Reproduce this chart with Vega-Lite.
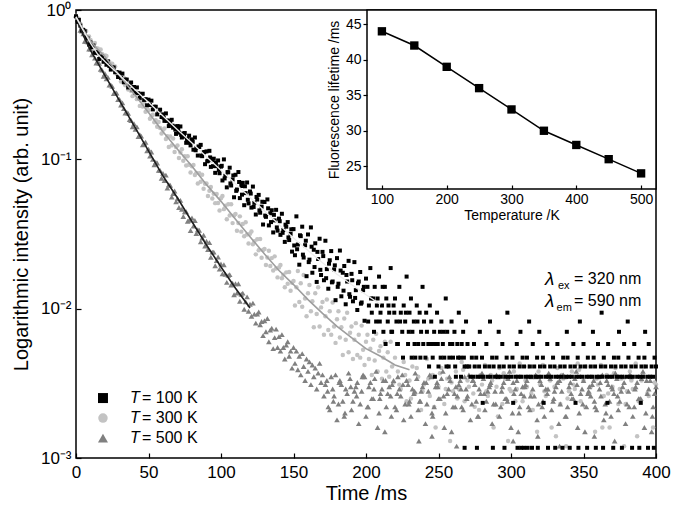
{
"$schema":"https://vega.github.io/schema/vega-lite/v6.json",
"width":580,"height":448,
"autosize":{"type":"none"},
"padding":{"left":76,"top":10,"right":17,"bottom":48},
"background":"white",
"config":{"view":{"stroke":"#000","strokeWidth":1.5},"font":"Liberation Sans","axis":{"grid":false,"domain":false,"labelColor":"#000","titleColor":"#000","tickColor":"#000","titleFontWeight":"normal"}},
"datasets":{
"b":[{"t":0,"v":0.908},{"t":1,"v":0.832},{"t":2,"v":0.860},{"t":3,"v":0.786},{"t":4,"v":0.727},{"t":5,"v":0.735},{"t":6,"v":0.721},{"t":7,"v":0.657},{"t":8,"v":0.646},{"t":9,"v":0.587},{"t":10,"v":0.606},{"t":11,"v":0.563},{"t":12,"v":0.578},{"t":13,"v":0.517},{"t":14,"v":0.522},{"t":15,"v":0.513},{"t":16,"v":0.470},{"t":17,"v":0.481},{"t":18,"v":0.489},{"t":19,"v":0.450},{"t":20,"v":0.461},{"t":21,"v":0.430},{"t":22,"v":0.453},{"t":23,"v":0.422},{"t":24,"v":0.399},{"t":25,"v":0.412},{"t":26,"v":0.412},{"t":27,"v":0.383},{"t":28,"v":0.384},{"t":29,"v":0.356},{"t":30,"v":0.381},{"t":31,"v":0.351},{"t":32,"v":0.375},{"t":33,"v":0.328},{"t":34,"v":0.342},{"t":35,"v":0.342},{"t":36,"v":0.303},{"t":37,"v":0.316},{"t":38,"v":0.327},{"t":39,"v":0.293},{"t":40,"v":0.305},{"t":41,"v":0.279},{"t":42,"v":0.303},{"t":43,"v":0.277},{"t":44,"v":0.258},{"t":45,"v":0.273},{"t":46,"v":0.275},{"t":47,"v":0.250},{"t":48,"v":0.253},{"t":49,"v":0.230},{"t":50,"v":0.251},{"t":51,"v":0.231},{"t":52,"v":0.247},{"t":53,"v":0.216},{"t":54,"v":0.225},{"t":55,"v":0.225},{"t":56,"v":0.200},{"t":57,"v":0.208},{"t":58,"v":0.215},{"t":59,"v":0.192},{"t":60,"v":0.200},
{"t":61,"v":0.181},{"t":62,"v":0.203},{"t":63,"v":0.182},{"t":64,"v":0.167},{"t":65,"v":0.181},{"t":66,"v":0.184},{"t":67,"v":0.163},{"t":68,"v":0.166},{"t":69,"v":0.148},{"t":70,"v":0.167},{"t":71,"v":0.151},{"t":72,"v":0.166},{"t":73,"v":0.140},{"t":74,"v":0.149},{"t":75,"v":0.150},{"t":76,"v":0.129},{"t":77,"v":0.137},{"t":78,"v":0.144},{"t":79,"v":0.124},{"t":80,"v":0.136},{"t":81,"v":0.116},{"t":82,"v":0.140},{"t":83,"v":0.119},{"t":84,"v":0.106},{"t":85,"v":0.121},{"t":86,"v":0.125},{"t":87,"v":0.105},{"t":88,"v":0.111},{"t":89,"v":0.0928},{"t":90,"v":0.113},{"t":91,"v":0.0978},{"t":92,"v":0.114},{"t":93,"v":0.0890},{"t":94,"v":0.0987},{"t":95,"v":0.101},{"t":96,"v":0.0812},{"t":97,"v":0.090},{"t":98,"v":0.0983},{"t":99,"v":0.0807},{"t":100,"v":0.0894},
{"t":60.5,"v":0.190},{"t":62.5,"v":0.181},{"t":64.5,"v":0.174},{"t":66.5,"v":0.168},{"t":68.5,"v":0.158},{"t":70.5,"v":0.158},{"t":72.5,"v":0.146},{"t":74.5,"v":0.142},{"t":76.5,"v":0.137},{"t":78.5,"v":0.129},{"t":80.5,"v":0.131},{"t":82.5,"v":0.115},{"t":84.5,"v":0.122},{"t":86.5,"v":0.106},{"t":88.5,"v":0.112},{"t":90.5,"v":0.097},{"t":92.5,"v":0.103},{"t":94.5,"v":0.090},{"t":96.5,"v":0.095},{"t":98.5,"v":0.085},
{"t":101,"v":0.0722},{"t":102,"v":0.0999},{"t":103,"v":0.0778},{"t":104,"v":0.0649},{"t":105,"v":0.0819},{"t":106,"v":0.0879},{"t":107,"v":0.0668},{"t":108,"v":0.0733},{"t":109,"v":0.0557},{"t":110,"v":0.0788},{"t":111,"v":0.0628},{"t":112,"v":0.0822},{"t":113,"v":0.0550},{"t":114,"v":0.0663},{"t":115,"v":0.0696},{"t":116,"v":0.0493},{"t":117,"v":0.0594},{"t":118,"v":0.0700},{"t":119,"v":0.0507},{"t":120,"v":0.0609},{"t":121,"v":0.0475},{"t":122,"v":0.0657},{"t":123,"v":0.0511},{"t":124,"v":0.0427},{"t":125,"v":0.0538},{"t":126,"v":0.0578},{"t":127,"v":0.0439},{"t":128,"v":0.0482},{"t":129,"v":0.0366},{"t":130,"v":0.0518},{"t":131,"v":0.0412},{"t":132,"v":0.0539},{"t":133,"v":0.0361},{"t":134,"v":0.0435},{"t":135,"v":0.0456},{"t":136,"v":0.0324},{"t":137,"v":0.039},{"t":138,"v":0.0459},{"t":139,"v":0.0333},{"t":140,"v":0.0401},{"t":141,"v":0.0312},{"t":142,"v":0.0432},{"t":143,"v":0.0336},{"t":144,"v":0.0280},{"t":145,"v":0.0354},{"t":146,"v":0.0380},{"t":147,"v":0.0288},{"t":148,"v":0.0317},{"t":149,"v":0.0241},{"t":150,"v":0.0341},
{"t":100.5,"v":0.0905},{"t":102.5,"v":0.0745},{"t":104.5,"v":0.0821},{"t":106.5,"v":0.0690},{"t":108.5,"v":0.0780},{"t":110.5,"v":0.0615},{"t":112.5,"v":0.0705},{"t":114.5,"v":0.0580},{"t":116.5,"v":0.0660},{"t":118.5,"v":0.0536},{"t":120.5,"v":0.0590},{"t":122.5,"v":0.0480},{"t":124.5,"v":0.0560},{"t":126.5,"v":0.0455},{"t":128.5,"v":0.0520},{"t":130.5,"v":0.0420},{"t":132.5,"v":0.0470},{"t":134.5,"v":0.0380},{"t":136.5,"v":0.0425},{"t":138.5,"v":0.0350},{"t":140.5,"v":0.0385},{"t":142.5,"v":0.0322},{"t":144.5,"v":0.0365},{"t":146.5,"v":0.0300},{"t":148.5,"v":0.0340},
{"t":151,"v":0.0228},{"t":152,"v":0.0415},{"t":153,"v":0.0269},{"t":154,"v":0.0197},{"t":155,"v":0.0306},{"t":156,"v":0.0354},{"t":157,"v":0.0220},{"t":158,"v":0.0266},{"t":159,"v":0.0165},{"t":160,"v":0.0314},{"t":161,"v":0.0213},{"t":162,"v":0.0350},{"t":163,"v":0.0174},{"t":164,"v":0.0248},{"t":165,"v":0.0274},{"t":166,"v":0.0151},{"t":167,"v":0.0215},{"t":168,"v":0.0294},{"t":169,"v":0.0168},{"t":170,"v":0.0240},{"t":171,"v":0.0155},{"t":172,"v":0.0285},{"t":173,"v":0.0184},{"t":174,"v":0.0136},{"t":175,"v":0.0211},{"t":176,"v":0.0243},{"t":177,"v":0.0152},{"t":178,"v":0.0183},{"t":179,"v":0.0114},{"t":180,"v":0.0218},{"t":181,"v":0.0147},{"t":182,"v":0.0245},{"t":183,"v":0.0121},{"t":184,"v":0.0174},{"t":185,"v":0.0193},{"t":186,"v":0.0107},{"t":187,"v":0.0152},{"t":188,"v":0.0209},{"t":189,"v":0.0120},{"t":190,"v":0.0171},{"t":191,"v":0.0112},{"t":192,"v":0.0205},{"t":193,"v":0.0133},{"t":194,"v":0.0098},{"t":195,"v":0.0152},{"t":196,"v":0.0176},{"t":197,"v":0.0110},{"t":198,"v":0.0133},{"t":199,"v":0.0083},{"t":200,"v":0.0159},
{"t":150.5,"v":0.0265},{"t":152.5,"v":0.0250},{"t":154.5,"v":0.0310},{"t":156.5,"v":0.0230},{"t":158.5,"v":0.0285},{"t":160.5,"v":0.0205},{"t":162.5,"v":0.0260},{"t":164.5,"v":0.0190},{"t":166.5,"v":0.0240},{"t":168.5,"v":0.0182},{"t":170.5,"v":0.0225},{"t":172.5,"v":0.0160},{"t":174.5,"v":0.0200},{"t":176.5,"v":0.0150},{"t":178.5,"v":0.0195},{"t":180.5,"v":0.0140},{"t":182.5,"v":0.0180},{"t":184.5,"v":0.0132},{"t":186.5,"v":0.0168},{"t":188.5,"v":0.0125},{"t":190.5,"v":0.0155},{"t":192.5,"v":0.0118},{"t":194.5,"v":0.0148},{"t":196.5,"v":0.0108},{"t":198.5,"v":0.0140},
{"t":201,"v":0.0140},{"t":202,"v":0.0105},{"t":203,"v":0.0187},{"t":204,"v":0.0094},{"t":205,"v":0.0117},{"t":206,"v":0.0140},{"t":207,"v":0.0082},{"t":208,"v":0.0117},{"t":209,"v":0.0164},{"t":210,"v":0.0094},{"t":211,"v":0.0105},{"t":212,"v":0.0070},{"t":213,"v":0.0140},{"t":214,"v":0.0117},{"t":215,"v":0.0082},{"t":216,"v":0.0094},{"t":217,"v":0.0187},{"t":218,"v":0.0070},{"t":219,"v":0.0105},{"t":220,"v":0.0117},{"t":221,"v":0.0082},{"t":222,"v":0.0058},{"t":223,"v":0.0140},{"t":224,"v":0.0094},{"t":225,"v":0.0070},{"t":226,"v":0.0105},{"t":227,"v":0.0082},{"t":228,"v":0.0164},{"t":229,"v":0.0058},{"t":230,"v":0.0094},{"t":231,"v":0.0117},{"t":232,"v":0.0070},{"t":233,"v":0.0082},{"t":234,"v":0.0047},{"t":235,"v":0.0105},{"t":236,"v":0.0058},{"t":237,"v":0.0094},{"t":238,"v":0.0070},{"t":239,"v":0.0140},{"t":240,"v":0.0082},{"t":241,"v":0.0047},{"t":242,"v":0.0070},{"t":243,"v":0.0058},{"t":244,"v":0.0105},{"t":245,"v":0.0082},{"t":246,"v":0.0047},{"t":247,"v":0.0070},{"t":248,"v":0.0058},{"t":249,"v":0.0094},{"t":250,"v":0.0041},{"t":251,"v":0.0070},{"t":252,"v":0.0082},{"t":253,"v":0.0058},{"t":254,"v":0.0047},{"t":255,"v":0.0117},{"t":256,"v":0.0070},{"t":257,"v":0.0041},{"t":258,"v":0.0058},{"t":259,"v":0.0082},{"t":260,"v":0.0047},{"t":261,"v":0.0070},{"t":262,"v":0.0035},{"t":263,"v":0.0058},{"t":264,"v":0.0094},{"t":265,"v":0.0047},{"t":266,"v":0.0058},{"t":267,"v":0.0070},{"t":268,"v":0.0041},{"t":269,"v":0.0082},{"t":270,"v":0.0058},
{"t":201.5,"v":0.0082},{"t":203.5,"v":0.0117},{"t":205.5,"v":0.0070},{"t":207.5,"v":0.0105},{"t":209.5,"v":0.0082},{"t":211.5,"v":0.0140},{"t":213.5,"v":0.0058},{"t":215.5,"v":0.0105},{"t":217.5,"v":0.0070},{"t":219.5,"v":0.0094},{"t":221.5,"v":0.0058},{"t":223.5,"v":0.0082},{"t":225.5,"v":0.0047},{"t":227.5,"v":0.0094},{"t":229.5,"v":0.0070},{"t":231.5,"v":0.0047},{"t":233.5,"v":0.0058},{"t":235.5,"v":0.0082},{"t":237.5,"v":0.0047},{"t":239.5,"v":0.0058},{"t":241.5,"v":0.0094},{"t":243.5,"v":0.0041},{"t":245.5,"v":0.0058},{"t":247.5,"v":0.0035},{"t":249.5,"v":0.0058},{"t":251.5,"v":0.0047},{"t":253.5,"v":0.0070},{"t":255.5,"v":0.0041},{"t":257.5,"v":0.0047},{"t":259.5,"v":0.0058},{"t":261.5,"v":0.0041},{"t":263.5,"v":0.0047},{"t":265.5,"v":0.0035},{"t":267.5,"v":0.0047},{"t":269.5,"v":0.0041},
{"t":272,"v":0.0035},{"t":274,"v":0.0035},{"t":277,"v":0.0035},{"t":279,"v":0.0035},{"t":281,"v":0.0035},{"t":284,"v":0.0035},{"t":286,"v":0.0035},{"t":289,"v":0.0035},{"t":291,"v":0.0035},{"t":293,"v":0.0035},{"t":296,"v":0.0035},{"t":298,"v":0.0035},{"t":300,"v":0.0035},{"t":303,"v":0.0035},{"t":305,"v":0.0035},{"t":307,"v":0.0035},{"t":310,"v":0.0035},{"t":312,"v":0.0035},{"t":314,"v":0.0035},{"t":317,"v":0.0035},{"t":319,"v":0.0035},{"t":321,"v":0.0035},{"t":324,"v":0.0035},{"t":326,"v":0.0035},{"t":328,"v":0.0035},{"t":331,"v":0.0035},{"t":333,"v":0.0035},{"t":335,"v":0.0035},{"t":338,"v":0.0035},{"t":340,"v":0.0035},{"t":342,"v":0.0035},{"t":345,"v":0.0035},{"t":347,"v":0.0035},{"t":349,"v":0.0035},{"t":352,"v":0.0035},{"t":354,"v":0.0035},{"t":356,"v":0.0035},{"t":359,"v":0.0035},{"t":361,"v":0.0035},{"t":363,"v":0.0035},{"t":366,"v":0.0035},{"t":368,"v":0.0035},{"t":370,"v":0.0035},{"t":373,"v":0.0035},{"t":375,"v":0.0035},{"t":377,"v":0.0035},{"t":380,"v":0.0035},{"t":382,"v":0.0035},{"t":384,"v":0.0035},{"t":387,"v":0.0035},{"t":389,"v":0.0035},{"t":391,"v":0.0035},{"t":394,"v":0.0035},{"t":396,"v":0.0035},{"t":398,"v":0.0035},
{"t":271,"v":0.0041},{"t":275,"v":0.0041},{"t":278,"v":0.0041},{"t":282,"v":0.0041},{"t":285,"v":0.0041},{"t":288,"v":0.0041},{"t":292,"v":0.0041},{"t":295,"v":0.0041},{"t":299,"v":0.0041},{"t":302,"v":0.0041},{"t":306,"v":0.0041},{"t":309,"v":0.0041},{"t":313,"v":0.0041},{"t":316,"v":0.0041},{"t":320,"v":0.0041},{"t":323,"v":0.0041},{"t":327,"v":0.0041},{"t":330,"v":0.0041},{"t":334,"v":0.0041},{"t":337,"v":0.0041},{"t":341,"v":0.0041},{"t":344,"v":0.0041},{"t":348,"v":0.0041},{"t":351,"v":0.0041},{"t":355,"v":0.0041},{"t":358,"v":0.0041},{"t":362,"v":0.0041},{"t":365,"v":0.0041},{"t":369,"v":0.0041},{"t":372,"v":0.0041},{"t":376,"v":0.0041},{"t":379,"v":0.0041},{"t":383,"v":0.0041},{"t":386,"v":0.0041},{"t":390,"v":0.0041},{"t":393,"v":0.0041},{"t":397,"v":0.0041},{"t":400,"v":0.0041},
{"t":273,"v":0.0047},{"t":276,"v":0.0047},{"t":280,"v":0.0047},{"t":287,"v":0.0047},{"t":290,"v":0.0047},{"t":297,"v":0.0047},{"t":301,"v":0.0047},{"t":308,"v":0.0047},{"t":311,"v":0.0047},{"t":318,"v":0.0047},{"t":322,"v":0.0047},{"t":329,"v":0.0047},{"t":336,"v":0.0047},{"t":339,"v":0.0047},{"t":346,"v":0.0047},{"t":353,"v":0.0047},{"t":357,"v":0.0047},{"t":364,"v":0.0047},{"t":371,"v":0.0047},{"t":374,"v":0.0047},{"t":381,"v":0.0047},{"t":388,"v":0.0047},{"t":392,"v":0.0047},{"t":399,"v":0.0047},
{"t":274.5,"v":0.0058},{"t":283,"v":0.0058},{"t":294,"v":0.0058},{"t":304,"v":0.0058},{"t":315,"v":0.0058},{"t":325,"v":0.0058},{"t":332,"v":0.0058},{"t":343,"v":0.0058},{"t":350,"v":0.0058},{"t":360,"v":0.0058},{"t":367,"v":0.0058},{"t":378,"v":0.0058},{"t":385,"v":0.0058},{"t":395,"v":0.0058},
{"t":278.5,"v":0.0070},{"t":291.5,"v":0.0070},{"t":306.5,"v":0.0070},{"t":319.5,"v":0.0070},{"t":338.5,"v":0.0070},{"t":356.5,"v":0.0070},{"t":374.5,"v":0.0070},{"t":392.5,"v":0.0070},
{"t":285.5,"v":0.0082},{"t":312.5,"v":0.0082},{"t":347.5,"v":0.0082},{"t":380.5,"v":0.0082},{"t":297.5,"v":0.0094},{"t":362.5,"v":0.0094},
{"t":280.5,"v":0.00234},{"t":301.5,"v":0.00234},{"t":322.5,"v":0.00234},{"t":344.5,"v":0.00234},{"t":366.5,"v":0.00234},{"t":389.5,"v":0.00234},
{"t":268,"v":0.00117},{"t":276.5,"v":0.00117},{"t":287.5,"v":0.00117},{"t":295.5,"v":0.00117},{"t":304.5,"v":0.00117},{"t":307,"v":0.00117},{"t":309,"v":0.00117},{"t":311.5,"v":0.00117},{"t":314.5,"v":0.00117},{"t":318.5,"v":0.00117},{"t":325.5,"v":0.00117},{"t":330.5,"v":0.00117},{"t":335.5,"v":0.00117},{"t":340.5,"v":0.00117},{"t":346.5,"v":0.00117},{"t":352.5,"v":0.00117},{"t":358.5,"v":0.00117},{"t":363.5,"v":0.00117},{"t":370.5,"v":0.00117},{"t":376.5,"v":0.00117},{"t":383.5,"v":0.00117},{"t":388.5,"v":0.00117},{"t":394.5,"v":0.00117},{"t":398.5,"v":0.00117}
],
"g":[{"t":0,"v":0.894},{"t":1,"v":0.886},{"t":2,"v":0.813},{"t":3,"v":0.809},{"t":4,"v":0.743},{"t":5,"v":0.743},{"t":6,"v":0.696},{"t":7,"v":0.723},{"t":8,"v":0.650},{"t":9,"v":0.665},{"t":10,"v":0.631},{"t":11,"v":0.576},{"t":12,"v":0.591},{"t":13,"v":0.602},{"t":14,"v":0.553},{"t":15,"v":0.553},{"t":16,"v":0.516},{"t":17,"v":0.544},{"t":18,"v":0.507},{"t":19,"v":0.479},{"t":20,"v":0.496},{"t":21,"v":0.492},{"t":22,"v":0.452},{"t":23,"v":0.451},{"t":24,"v":0.413},{"t":25,"v":0.436},{"t":26,"v":0.405},{"t":27,"v":0.418},{"t":28,"v":0.373},{"t":29,"v":0.379},{"t":30,"v":0.378},{"t":31,"v":0.332},{"t":32,"v":0.345},{"t":33,"v":0.352},{"t":34,"v":0.313},{"t":35,"v":0.325},{"t":36,"v":0.293},{"t":37,"v":0.317},{"t":38,"v":0.287},{"t":39,"v":0.265},
{"t":40,"v":0.282},{"t":41,"v":0.281},{"t":42,"v":0.253},{"t":43,"v":0.254},{"t":44,"v":0.228},{"t":45,"v":0.248},{"t":46,"v":0.226},{"t":47,"v":0.239},{"t":48,"v":0.208},{"t":49,"v":0.215},{"t":50,"v":0.213},{"t":51,"v":0.187},{"t":52,"v":0.194},{"t":53,"v":0.199},{"t":54,"v":0.177},{"t":55,"v":0.183},{"t":56,"v":0.165},{"t":57,"v":0.178},{"t":58,"v":0.162},{"t":59,"v":0.149},{"t":60,"v":0.158},{"t":61,"v":0.161},{"t":62,"v":0.137},{"t":63,"v":0.143},{"t":64,"v":0.121},{"t":65,"v":0.142},{"t":66,"v":0.124},{"t":67,"v":0.138},{"t":68,"v":0.112},{"t":69,"v":0.121},
{"t":70,"v":0.124},{"t":71,"v":0.102},{"t":72,"v":0.111},{"t":73,"v":0.117},{"t":74,"v":0.098},{"t":75,"v":0.105},{"t":76,"v":0.091},{"t":77,"v":0.105},{"t":78,"v":0.092},{"t":79,"v":0.0817},{"t":80,"v":0.090},{"t":81,"v":0.0918},{"t":82,"v":0.0786},{"t":83,"v":0.081},{"t":84,"v":0.0688},{"t":85,"v":0.0806},{"t":86,"v":0.0707},{"t":87,"v":0.0788},{"t":88,"v":0.0635},{"t":89,"v":0.0686},{"t":90,"v":0.0689},{"t":91,"v":0.0568},{"t":92,"v":0.0615},{"t":93,"v":0.0652},{"t":94,"v":0.0546},{"t":95,"v":0.0589},{"t":96,"v":0.0509},{"t":97,"v":0.0586},{"t":98,"v":0.0510},{"t":99,"v":0.0455},
{"t":100,"v":0.0548},{"t":101,"v":0.0569},{"t":102,"v":0.0464},{"t":103,"v":0.0489},{"t":104,"v":0.0397},{"t":105,"v":0.0500},{"t":106,"v":0.0421},{"t":107,"v":0.0501},{"t":108,"v":0.0374},{"t":109,"v":0.0421},{"t":110,"v":0.0430},{"t":111,"v":0.0333},{"t":112,"v":0.0375},{"t":113,"v":0.0415},{"t":114,"v":0.0328},{"t":115,"v":0.0369},{"t":116,"v":0.0305},{"t":117,"v":0.0379},{"t":118,"v":0.0314},{"t":119,"v":0.0273},{"t":120,"v":0.0317},{"t":121,"v":0.0329},{"t":122,"v":0.0270},{"t":123,"v":0.0283},{"t":124,"v":0.0231},{"t":125,"v":0.0292},{"t":126,"v":0.0246},{"t":127,"v":0.0293},{"t":128,"v":0.0219},{"t":129,"v":0.0247},{"t":130,"v":0.0251},{"t":131,"v":0.0196},{"t":132,"v":0.0220},{"t":133,"v":0.0244},{"t":134,"v":0.0193},{"t":135,"v":0.0218},{"t":136,"v":0.0180},{"t":137,"v":0.0224},{"t":138,"v":0.0186},{"t":139,"v":0.0162},{"t":140,"v":0.0189},{"t":141,"v":0.0196},{"t":142,"v":0.0160},{"t":143,"v":0.0169},{"t":144,"v":0.0139},{"t":145,"v":0.0175},{"t":146,"v":0.0147},{"t":147,"v":0.0176},{"t":148,"v":0.0132},{"t":149,"v":0.0149},{"t":150,"v":0.0153},
{"t":151,"v":0.0105},{"t":152,"v":0.0139},{"t":153,"v":0.0179},{"t":154,"v":0.0111},{"t":155,"v":0.0148},{"t":156,"v":0.0103},{"t":157,"v":0.0168},{"t":158,"v":0.0117},{"t":159,"v":0.0089},{"t":160,"v":0.0127},{"t":161,"v":0.0144},{"t":162,"v":0.0096},{"t":163,"v":0.0112},{"t":164,"v":0.0075},{"t":165,"v":0.0127},{"t":166,"v":0.0092},{"t":167,"v":0.0139},{"t":168,"v":0.0076},{"t":169,"v":0.0102},{"t":170,"v":0.0111},{"t":171,"v":0.0067},{"t":172,"v":0.0089},{"t":173,"v":0.0115},{"t":174,"v":0.0072},{"t":175,"v":0.0096},{"t":176,"v":0.0067},{"t":177,"v":0.0110},{"t":178,"v":0.0076},{"t":179,"v":0.0059},{"t":180,"v":0.0085},{"t":181,"v":0.0096},{"t":182,"v":0.0064},{"t":183,"v":0.0075},{"t":184,"v":0.0049},{"t":185,"v":0.0086},{"t":186,"v":0.0062},{"t":187,"v":0.0094},{"t":188,"v":0.0051},{"t":189,"v":0.0069},{"t":190,"v":0.0076},{"t":191,"v":0.0046},{"t":192,"v":0.0062},{"t":193,"v":0.0080},{"t":194,"v":0.0049},{"t":195,"v":0.0067},{"t":196,"v":0.0047},{"t":197,"v":0.0077},{"t":198,"v":0.0053},{"t":199,"v":0.0042},{"t":200,"v":0.0060},{"t":201,"v":0.0067},{"t":202,"v":0.0046},{"t":203,"v":0.0054},{"t":204,"v":0.0036},{"t":205,"v":0.0062},{"t":206,"v":0.0045},{"t":207,"v":0.0068},{"t":208,"v":0.0038},{"t":209,"v":0.0052},{"t":210,"v":0.0056},{"t":211,"v":0.0034},{"t":212,"v":0.0047},{"t":213,"v":0.0060},{"t":214,"v":0.0038},{"t":215,"v":0.0051},{"t":216,"v":0.0035},{"t":217,"v":0.0060},{"t":218,"v":0.0041},{"t":219,"v":0.0032},{"t":220,"v":0.0047},
{"t":222,"v":0.0038},{"t":224,"v":0.0029},{"t":226,"v":0.0044},{"t":228,"v":0.0024},{"t":230,"v":0.0033},{"t":232,"v":0.0041},{"t":234,"v":0.0027},{"t":236,"v":0.0035},{"t":238,"v":0.0021},{"t":240,"v":0.0031},{"t":242,"v":0.0046},{"t":244,"v":0.0026},{"t":246,"v":0.0036},{"t":248,"v":0.0016},{"t":250,"v":0.0030},{"t":252,"v":0.0040},{"t":254,"v":0.0023},{"t":256,"v":0.0034},{"t":258,"v":0.0013},{"t":260,"v":0.0028},{"t":262,"v":0.0038},{"t":264,"v":0.0029},{"t":266,"v":0.0044},{"t":268,"v":0.0024},{"t":270,"v":0.0033},{"t":272,"v":0.0041},{"t":274,"v":0.0027},{"t":276,"v":0.0035},{"t":278,"v":0.0021},{"t":280,"v":0.0031},{"t":282,"v":0.0042},{"t":284,"v":0.0026},{"t":286,"v":0.0036},{"t":288,"v":0.0016},{"t":290,"v":0.0030},{"t":292,"v":0.0040},{"t":294,"v":0.0023},{"t":296,"v":0.0034},{"t":298,"v":0.0013},{"t":300,"v":0.0028},{"t":302,"v":0.0038},{"t":304,"v":0.0029},{"t":306,"v":0.0043},{"t":308,"v":0.0024},{"t":310,"v":0.0033},{"t":312,"v":0.0041},{"t":314,"v":0.0027},{"t":316,"v":0.0035},{"t":318,"v":0.0015},{"t":320,"v":0.0031},{"t":322,"v":0.0042},{"t":324,"v":0.0026},{"t":326,"v":0.0036},{"t":328,"v":0.0016},{"t":330,"v":0.0030},{"t":332,"v":0.0040},{"t":334,"v":0.0023},{"t":336,"v":0.0034},{"t":338,"v":0.0012},{"t":340,"v":0.0028},{"t":342,"v":0.0038},{"t":344,"v":0.0029},{"t":346,"v":0.0043},{"t":348,"v":0.0024},{"t":350,"v":0.0033},{"t":352,"v":0.0041},{"t":354,"v":0.0027},{"t":356,"v":0.0035},{"t":358,"v":0.0015},{"t":360,"v":0.0031},{"t":362,"v":0.0042},{"t":364,"v":0.0026},{"t":366,"v":0.0036},{"t":368,"v":0.0016},{"t":370,"v":0.0030},{"t":372,"v":0.0040},{"t":374,"v":0.0023},{"t":376,"v":0.0034},{"t":378,"v":0.0012},{"t":380,"v":0.0028},{"t":382,"v":0.0038},{"t":384,"v":0.0029},{"t":386,"v":0.0043},{"t":388,"v":0.0024},{"t":390,"v":0.0033},{"t":392,"v":0.0041},{"t":394,"v":0.0027},{"t":396,"v":0.0035},{"t":398,"v":0.0016},{"t":400,"v":0.0031},
{"t":223,"v":0.0031},{"t":227,"v":0.0036},{"t":231,"v":0.0025},{"t":235,"v":0.0040},{"t":239,"v":0.0028},{"t":243,"v":0.0034},{"t":247,"v":0.0022},{"t":251,"v":0.0037},{"t":255,"v":0.0029},{"t":259,"v":0.0032},{"t":263,"v":0.0025},{"t":267,"v":0.0039},{"t":271,"v":0.0030},{"t":275,"v":0.0022},{"t":279,"v":0.0036},{"t":283,"v":0.0028},{"t":287,"v":0.0033},{"t":291,"v":0.0019},{"t":295,"v":0.0037},{"t":299,"v":0.0029},{"t":303,"v":0.0024},{"t":307,"v":0.0035},{"t":311,"v":0.0030},{"t":315,"v":0.0021},{"t":319,"v":0.0038},{"t":323,"v":0.0028},{"t":327,"v":0.0033},{"t":331,"v":0.0014},{"t":335,"v":0.0036},{"t":339,"v":0.0025},{"t":343,"v":0.0031},{"t":347,"v":0.0039},{"t":351,"v":0.0022},{"t":355,"v":0.0030},{"t":359,"v":0.0034},{"t":363,"v":0.0016},{"t":367,"v":0.0027},{"t":371,"v":0.0037},{"t":375,"v":0.0029},{"t":379,"v":0.0023},{"t":383,"v":0.0033},{"t":387,"v":0.0014},{"t":391,"v":0.0036},{"t":395,"v":0.0026},{"t":399,"v":0.0032}
],
"d":[{"t":0,"v":0.926},{"t":1,"v":0.838},{"t":2,"v":0.843},{"t":3,"v":0.732},{"t":4,"v":0.723},{"t":5,"v":0.693},{"t":6,"v":0.617},{"t":7,"v":0.617},{"t":8,"v":0.613},{"t":9,"v":0.548},{"t":10,"v":0.548},{"t":11,"v":0.501},{"t":12,"v":0.519},{"t":13,"v":0.476},{"t":14,"v":0.442},{"t":15,"v":0.449},{"t":16,"v":0.440},{"t":17,"v":0.401},{"t":18,"v":0.396},{"t":19,"v":0.360},{"t":20,"v":0.375},{"t":21,"v":0.346},{"t":22,"v":0.354},{"t":23,"v":0.314},{"t":24,"v":0.315},{"t":25,"v":0.308},{"t":26,"v":0.276},{"t":27,"v":0.278},{"t":28,"v":0.278},{"t":29,"v":0.251},{"t":30,"v":0.252},{"t":31,"v":0.231},{"t":32,"v":0.239},{"t":33,"v":0.219},{"t":34,"v":0.204},{"t":35,"v":0.207},{"t":36,"v":0.203},{"t":37,"v":0.185},{"t":38,"v":0.182},{"t":39,"v":0.165},
{"t":40,"v":0.173},{"t":41,"v":0.159},{"t":42,"v":0.165},{"t":43,"v":0.142},{"t":44,"v":0.146},{"t":45,"v":0.143},{"t":46,"v":0.125},{"t":47,"v":0.128},{"t":48,"v":0.130},{"t":49,"v":0.114},{"t":50,"v":0.117},{"t":51,"v":0.105},{"t":52,"v":0.112},{"t":53,"v":0.100},{"t":54,"v":0.0920},{"t":55,"v":0.0958},{"t":56,"v":0.0946},{"t":57,"v":0.0844},{"t":58,"v":0.0841},{"t":59,"v":0.0747},
{"t":60,"v":0.0805},{"t":61,"v":0.0722},{"t":62,"v":0.0784},{"t":63,"v":0.0641},{"t":64,"v":0.0676},{"t":65,"v":0.0670},{"t":66,"v":0.0559},{"t":67,"v":0.0591},{"t":68,"v":0.0613},{"t":69,"v":0.0520},{"t":70,"v":0.0547},{"t":71,"v":0.0476},{"t":72,"v":0.0531},{"t":73,"v":0.0463},{"t":74,"v":0.0414},{"t":75,"v":0.0446},{"t":76,"v":0.0446},{"t":77,"v":0.0385},{"t":78,"v":0.0390},{"t":79,"v":0.0334},
{"t":80,"v":0.0405},{"t":81,"v":0.0357},{"t":82,"v":0.0389},{"t":83,"v":0.0319},{"t":84,"v":0.0338},{"t":85,"v":0.0335},{"t":86,"v":0.0280},{"t":87,"v":0.0297},{"t":88,"v":0.0310},{"t":89,"v":0.0263},{"t":90,"v":0.0283},{"t":91,"v":0.0249},{"t":92,"v":0.0277},{"t":93,"v":0.0221},{"t":94,"v":0.0239},{"t":95,"v":0.0239},{"t":96,"v":0.0194},{"t":97,"v":0.0210},{"t":98,"v":0.0222},{"t":99,"v":0.0184},
{"t":100,"v":0.0199},{"t":101,"v":0.0171},{"t":102,"v":0.0197},{"t":103,"v":0.0170},{"t":104,"v":0.0150},{"t":105,"v":0.0167},{"t":106,"v":0.0169},{"t":107,"v":0.0144},{"t":108,"v":0.0148},{"t":109,"v":0.0124},{"t":110,"v":0.0147},{"t":111,"v":0.0127},{"t":112,"v":0.0147},{"t":113,"v":0.0112},{"t":114,"v":0.0125},{"t":115,"v":0.0127},{"t":116,"v":0.0099},{"t":117,"v":0.0111},{"t":118,"v":0.0120},{"t":119,"v":0.0096},
{"t":120,"v":0.0107},{"t":121,"v":0.0089},{"t":122,"v":0.0109},{"t":123,"v":0.0092},{"t":124,"v":0.0080},{"t":125,"v":0.0092},{"t":126,"v":0.0095},{"t":127,"v":0.0078},{"t":128,"v":0.0082},{"t":129,"v":0.0066},{"t":130,"v":0.0083},{"t":131,"v":0.0070},{"t":132,"v":0.0086},{"t":133,"v":0.0060},{"t":134,"v":0.0072},{"t":135,"v":0.0074},{"t":136,"v":0.0054},{"t":137,"v":0.0064},{"t":138,"v":0.0073},{"t":139,"v":0.0055},
{"t":140,"v":0.0065},{"t":141,"v":0.0052},{"t":142,"v":0.0067},{"t":143,"v":0.0055},{"t":144,"v":0.0046},{"t":145,"v":0.0057},{"t":146,"v":0.0060},{"t":147,"v":0.0048},{"t":148,"v":0.0052},{"t":149,"v":0.0040},{"t":150,"v":0.0055},{"t":151,"v":0.0043},{"t":152,"v":0.0052},{"t":153,"v":0.0039},{"t":154,"v":0.0048},{"t":155,"v":0.0036},{"t":156,"v":0.0050},{"t":157,"v":0.0041},{"t":158,"v":0.0033},{"t":159,"v":0.0046},{"t":160,"v":0.0038},{"t":161,"v":0.0044},{"t":162,"v":0.0031},{"t":163,"v":0.0042},{"t":164,"v":0.0035},{"t":165,"v":0.0040},{"t":166,"v":0.0029},{"t":167,"v":0.0037},{"t":168,"v":0.0043},{"t":169,"v":0.0032},{"t":170,"v":0.0036},
{"t":171,"v":0.0026},{"t":173,"v":0.0033},{"t":175,"v":0.0021},{"t":177,"v":0.0029},{"t":179,"v":0.0036},{"t":181,"v":0.0023},{"t":183,"v":0.0031},{"t":185,"v":0.0019},{"t":187,"v":0.0027},{"t":189,"v":0.0034},{"t":191,"v":0.0024},{"t":193,"v":0.0030},{"t":195,"v":0.0017},{"t":197,"v":0.0028},{"t":199,"v":0.0035},{"t":201,"v":0.0022},{"t":203,"v":0.0032},{"t":205,"v":0.0025},{"t":207,"v":0.0038},{"t":209,"v":0.0020},{"t":211,"v":0.0029},{"t":213,"v":0.0015},{"t":215,"v":0.0027},{"t":217,"v":0.0026},{"t":219,"v":0.0033},{"t":221,"v":0.0021},{"t":223,"v":0.0029},{"t":225,"v":0.0036},{"t":227,"v":0.0023},{"t":229,"v":0.0031},{"t":231,"v":0.0019},{"t":233,"v":0.0027},{"t":235,"v":0.0034},{"t":237,"v":0.0024},{"t":239,"v":0.0030},{"t":241,"v":0.0017},{"t":243,"v":0.0028},{"t":245,"v":0.0035},{"t":247,"v":0.0022},{"t":249,"v":0.0032},{"t":251,"v":0.0025},{"t":253,"v":0.0038},{"t":255,"v":0.0020},{"t":257,"v":0.0029},{"t":259,"v":0.0015},{"t":261,"v":0.0027},{"t":263,"v":0.0026},{"t":265,"v":0.0033},{"t":267,"v":0.0021},{"t":269,"v":0.0029},{"t":271,"v":0.0036},{"t":273,"v":0.0023},{"t":275,"v":0.0031},{"t":277,"v":0.0019},{"t":279,"v":0.0027},{"t":281,"v":0.0034},{"t":283,"v":0.0024},{"t":285,"v":0.0030},{"t":287,"v":0.0017},{"t":289,"v":0.0028},{"t":291,"v":0.0035},{"t":293,"v":0.0022},{"t":295,"v":0.0032},{"t":297,"v":0.0025},{"t":299,"v":0.0038},{"t":301,"v":0.0020},{"t":303,"v":0.0029},{"t":305,"v":0.0015},{"t":307,"v":0.0027},{"t":309,"v":0.0026},{"t":311,"v":0.0033},{"t":313,"v":0.0021},{"t":315,"v":0.0029},{"t":317,"v":0.0036},{"t":319,"v":0.0023},{"t":321,"v":0.0031},{"t":323,"v":0.0019},{"t":325,"v":0.0027},{"t":327,"v":0.0034},{"t":329,"v":0.0024},{"t":331,"v":0.0030},{"t":333,"v":0.0017},{"t":335,"v":0.0028},{"t":337,"v":0.0035},{"t":339,"v":0.0022},{"t":341,"v":0.0032},{"t":343,"v":0.0025},{"t":345,"v":0.0038},{"t":347,"v":0.0020},{"t":349,"v":0.0029},{"t":351,"v":0.0015},{"t":353,"v":0.0027},{"t":355,"v":0.0026},{"t":357,"v":0.0033},{"t":359,"v":0.0021},{"t":361,"v":0.0029},{"t":363,"v":0.0036},{"t":365,"v":0.0023},{"t":367,"v":0.0031},{"t":369,"v":0.0019},{"t":371,"v":0.0027},{"t":373,"v":0.0034},{"t":375,"v":0.0024},{"t":377,"v":0.0030},{"t":379,"v":0.0017},{"t":381,"v":0.0028},{"t":383,"v":0.0035},{"t":385,"v":0.0022},{"t":387,"v":0.0032},{"t":389,"v":0.0025},{"t":391,"v":0.0038},{"t":393,"v":0.0020},{"t":395,"v":0.0029},{"t":397,"v":0.0015},{"t":399,"v":0.0027},
{"t":172,"v":0.0031},{"t":174,"v":0.0022},{"t":176,"v":0.0035},{"t":178,"v":0.0026},{"t":180,"v":0.0018},{"t":182,"v":0.0033},{"t":184,"v":0.0024},{"t":186,"v":0.0029},{"t":188,"v":0.0037},{"t":190,"v":0.0021},{"t":192,"v":0.0028},{"t":194,"v":0.0032},{"t":196,"v":0.0023},{"t":198,"v":0.0036},{"t":200,"v":0.0019},{"t":202,"v":0.0030},{"t":204,"v":0.0025},{"t":206,"v":0.0034},{"t":208,"v":0.0016},{"t":210,"v":0.0027},{"t":212,"v":0.0033},{"t":214,"v":0.0022},{"t":216,"v":0.0030},{"t":218,"v":0.0031},{"t":220,"v":0.0022},{"t":222,"v":0.0035},{"t":224,"v":0.0026},{"t":226,"v":0.0018},{"t":228,"v":0.0033},{"t":230,"v":0.0024},{"t":232,"v":0.0029},{"t":234,"v":0.0037},{"t":236,"v":0.0021},{"t":238,"v":0.0028},{"t":240,"v":0.0032},{"t":242,"v":0.0023},{"t":244,"v":0.0036},{"t":246,"v":0.0019},{"t":248,"v":0.0030},{"t":250,"v":0.0025},{"t":252,"v":0.0034},{"t":254,"v":0.0016},{"t":256,"v":0.0027},{"t":258,"v":0.0033},{"t":260,"v":0.0022},{"t":262,"v":0.0030},{"t":264,"v":0.0031},{"t":266,"v":0.0022},{"t":268,"v":0.0035},{"t":270,"v":0.0026},{"t":272,"v":0.0018},{"t":274,"v":0.0033},{"t":276,"v":0.0024},{"t":278,"v":0.0029},{"t":280,"v":0.0037},{"t":282,"v":0.0021},{"t":284,"v":0.0028},{"t":286,"v":0.0032},{"t":288,"v":0.0023},{"t":290,"v":0.0036},{"t":292,"v":0.0019},{"t":294,"v":0.0030},{"t":296,"v":0.0025},{"t":298,"v":0.0034},{"t":300,"v":0.0016},{"t":302,"v":0.0027},{"t":304,"v":0.0033},{"t":306,"v":0.0022},{"t":308,"v":0.0030},{"t":310,"v":0.0031},{"t":312,"v":0.0022},{"t":314,"v":0.0035},{"t":316,"v":0.0026},{"t":318,"v":0.0018},{"t":320,"v":0.0033},{"t":322,"v":0.0024},{"t":324,"v":0.0029},{"t":326,"v":0.0037},{"t":328,"v":0.0021},{"t":330,"v":0.0028},{"t":332,"v":0.0032},{"t":334,"v":0.0023},{"t":336,"v":0.0036},{"t":338,"v":0.0019},{"t":340,"v":0.0030},{"t":342,"v":0.0025},{"t":344,"v":0.0034},{"t":346,"v":0.0016},{"t":348,"v":0.0027},{"t":350,"v":0.0033},{"t":352,"v":0.0022},{"t":354,"v":0.0030},{"t":356,"v":0.0031},{"t":358,"v":0.0022},{"t":360,"v":0.0035},{"t":362,"v":0.0026},{"t":364,"v":0.0018},{"t":366,"v":0.0033},{"t":368,"v":0.0024},{"t":370,"v":0.0029},{"t":372,"v":0.0037},{"t":374,"v":0.0021},{"t":376,"v":0.0028},{"t":378,"v":0.0032},{"t":380,"v":0.0023},{"t":382,"v":0.0036},{"t":384,"v":0.0019},{"t":386,"v":0.0030},{"t":388,"v":0.0025},{"t":390,"v":0.0034},{"t":392,"v":0.0016},{"t":394,"v":0.0027},{"t":396,"v":0.0033},{"t":398,"v":0.0022},{"t":400,"v":0.0030},
{"t":173.5,"v":0.0028},{"t":177.5,"v":0.0024},{"t":181.5,"v":0.0032},{"t":185.5,"v":0.0020},{"t":189.5,"v":0.0030},{"t":193.5,"v":0.0026},{"t":197.5,"v":0.0035},{"t":201.5,"v":0.0022},{"t":205.5,"v":0.0029},{"t":209.5,"v":0.0025},{"t":213.5,"v":0.0033},{"t":217.5,"v":0.0019},{"t":221.5,"v":0.0027},{"t":225.5,"v":0.0031},{"t":229.5,"v":0.0023},{"t":233.5,"v":0.0028},{"t":237.5,"v":0.0024},{"t":241.5,"v":0.0032},{"t":245.5,"v":0.0020},{"t":249.5,"v":0.0030},{"t":253.5,"v":0.0026},{"t":257.5,"v":0.0035},{"t":261.5,"v":0.0022},{"t":265.5,"v":0.0029},{"t":269.5,"v":0.0025},{"t":273.5,"v":0.0033},{"t":277.5,"v":0.0019},{"t":281.5,"v":0.0027},{"t":285.5,"v":0.0031},{"t":289.5,"v":0.0023},{"t":293.5,"v":0.0028},{"t":297.5,"v":0.0024},{"t":301.5,"v":0.0032},{"t":305.5,"v":0.0020},{"t":309.5,"v":0.0030},{"t":313.5,"v":0.0026},{"t":317.5,"v":0.0035},{"t":321.5,"v":0.0022},{"t":325.5,"v":0.0029},{"t":329.5,"v":0.0025},{"t":333.5,"v":0.0033},{"t":337.5,"v":0.0019},{"t":341.5,"v":0.0027},{"t":345.5,"v":0.0031},{"t":349.5,"v":0.0023},{"t":353.5,"v":0.0028},{"t":357.5,"v":0.0024},{"t":361.5,"v":0.0032},{"t":365.5,"v":0.0020},{"t":369.5,"v":0.0030},{"t":373.5,"v":0.0026},{"t":377.5,"v":0.0035},{"t":381.5,"v":0.0022},{"t":385.5,"v":0.0029},{"t":389.5,"v":0.0025},{"t":393.5,"v":0.0033},{"t":397.5,"v":0.0019},
{"t":236.5,"v":0.0013},{"t":245.5,"v":0.0014},{"t":262.5,"v":0.0012},{"t":301.5,"v":0.0013},{"t":318.5,"v":0.0014},{"t":333.5,"v":0.0012},{"t":357.5,"v":0.0014},{"t":371.5,"v":0.0013}
],
"fb":[{"t":0,"v":0.90},{"t":5,"v":0.73},{"t":10,"v":0.60},{"t":15,"v":0.505},{"t":20,"v":0.452},{"t":30,"v":0.366},{"t":40,"v":0.297},{"t":50,"v":0.241},{"t":60,"v":0.195},{"t":70,"v":0.158},{"t":80,"v":0.1285},{"t":90,"v":0.1042},{"t":100,"v":0.0846},{"t":110,"v":0.0686},{"t":120,"v":0.0556},{"t":130,"v":0.0451},{"t":140,"v":0.0366},{"t":150,"v":0.0297},{"t":160,"v":0.0245},{"t":170,"v":0.0203},{"t":180,"v":0.0170},{"t":190,"v":0.0145},{"t":200,"v":0.0124},{"t":210,"v":0.0107}],
"fg":[{"t":0,"v":0.90},{"t":5,"v":0.74},{"t":10,"v":0.62},{"t":15,"v":0.545},{"t":20,"v":0.486},{"t":30,"v":0.365},{"t":40,"v":0.275},{"t":50,"v":0.206},{"t":60,"v":0.153},{"t":70,"v":0.117},{"t":80,"v":0.0898},{"t":90,"v":0.0677},{"t":100,"v":0.0523},{"t":110,"v":0.0397},{"t":120,"v":0.0303},{"t":130,"v":0.0232},{"t":140,"v":0.0180},{"t":150,"v":0.0145},{"t":160,"v":0.0115},{"t":170,"v":0.0093},{"t":180,"v":0.0076},{"t":190,"v":0.0064},{"t":200,"v":0.0054},{"t":210,"v":0.0048},{"t":220,"v":0.0042},{"t":230,"v":0.0039}],
"fd":[{"t":0,"v":0.90},{"t":5,"v":0.676},{"t":10,"v":0.537},{"t":15,"v":0.442},{"t":20,"v":0.364},{"t":30,"v":0.247},{"t":40,"v":0.168},{"t":50,"v":0.114},{"t":60,"v":0.0773},{"t":70,"v":0.0551},{"t":80,"v":0.0382},{"t":90,"v":0.0267},{"t":100,"v":0.0190},{"t":110,"v":0.0137},{"t":120,"v":0.0101}],
"ins":[{"T":100,"tau":44},{"T":150,"tau":42},{"T":200,"tau":39},{"T":250,"tau":36},{"T":300,"tau":33},{"T":350,"tau":30},{"T":400,"tau":28},{"T":450,"tau":26},{"T":500,"tau":24}]
},
"layer":[
{"layer":[
  {"data":{"name":"g"},"mark":{"type":"point","shape":"circle","filled":true,"size":20,"color":"#c3c3c3","opacity":1},
   "encoding":{
    "x":{"field":"t","type":"quantitative","scale":{"domain":[0,400],"nice":false,"zero":false},"axis":{"title":"Time /ms","values":[0,50,100,150,200,250,300,350,400],"tickSize":-5,"tickWidth":1.2,"labelPadding":11,"labelFontSize":17,"titleFontSize":20,"titlePadding":3,"zindex":1,"labelFlush":false}},
    "y":{"field":"v","type":"quantitative","scale":{"type":"log","domain":[0.001,1],"nice":false},"axis":{"title":"Logarithmic intensity (arb. unit)","values":[0.001,0.01,0.1,1],"labelExpr":"datum.value > 0.5 ? '10⁰' : datum.value > 0.05 ? '10⁻¹' : datum.value > 0.005 ? '10⁻²' : '10⁻³'","tickSize":-5,"tickWidth":1.2,"labelPadding":10,"labelFontSize":17,"titleFontSize":20,"titlePadding":9,"zindex":1,"labelFlush":false}}}},
  {"data":{"name":"d"},"mark":{"type":"point","shape":"triangle-up","filled":true,"size":32,"color":"#808080","opacity":1},"encoding":{"x":{"field":"t","type":"quantitative"},"y":{"field":"v","type":"quantitative","scale":{"type":"log"}}}},
  {"data":{"name":"b"},"mark":{"type":"point","shape":"square","filled":true,"size":16,"color":"#000000","opacity":1},"encoding":{"x":{"field":"t","type":"quantitative"},"y":{"field":"v","type":"quantitative","scale":{"type":"log"}}}},
  {"data":{"name":"fd"},"mark":{"type":"line","color":"#1e1e1e","strokeWidth":1.6},"encoding":{"x":{"field":"t","type":"quantitative"},"y":{"field":"v","type":"quantitative","scale":{"type":"log"}}}},
  {"data":{"name":"fg"},"mark":{"type":"line","color":"#9e9e9e","strokeWidth":1.6},"encoding":{"x":{"field":"t","type":"quantitative"},"y":{"field":"v","type":"quantitative","scale":{"type":"log"}}}},
  {"data":{"name":"fb"},"mark":{"type":"line","color":"#ececec","strokeWidth":1.3},"encoding":{"x":{"field":"t","type":"quantitative"},"y":{"field":"v","type":"quantitative","scale":{"type":"log"}}}},
  {"data":{"values":[{}]},"mark":{"type":"point","shape":"square","filled":true,"size":100,"color":"#000000","opacity":1},"encoding":{"x":{"datum":18.6},"y":{"datum":0.00252,"scale":{"type":"log"}}}},
  {"data":{"values":[{}]},"mark":{"type":"point","shape":"circle","filled":true,"size":90,"color":"#c3c3c3","opacity":1},"encoding":{"x":{"datum":18.6},"y":{"datum":0.00185,"scale":{"type":"log"}}}},
  {"data":{"values":[{}]},"mark":{"type":"point","shape":"triangle-up","filled":true,"size":100,"color":"#808080","opacity":1},"encoding":{"x":{"datum":18.6},"y":{"datum":0.00136,"scale":{"type":"log"}}}},
  {"data":{"values":[{}]},"mark":{"type":"text","text":"T","fontStyle":"italic","fontSize":16,"align":"left","baseline":"middle","color":"#000"},"encoding":{"x":{"datum":37.2},"y":{"datum":0.00252,"scale":{"type":"log"}}}},
  {"data":{"values":[{}]},"mark":{"type":"text","text":"T","fontStyle":"italic","fontSize":16,"align":"left","baseline":"middle","color":"#000"},"encoding":{"x":{"datum":37.2},"y":{"datum":0.00185,"scale":{"type":"log"}}}},
  {"data":{"values":[{}]},"mark":{"type":"text","text":"T","fontStyle":"italic","fontSize":16,"align":"left","baseline":"middle","color":"#000"},"encoding":{"x":{"datum":37.2},"y":{"datum":0.00136,"scale":{"type":"log"}}}},
  {"data":{"values":[{}]},"mark":{"type":"text","text":"= 100 K","fontSize":16,"align":"left","baseline":"middle","color":"#000"},"encoding":{"x":{"datum":45.5},"y":{"datum":0.00252,"scale":{"type":"log"}}}},
  {"data":{"values":[{}]},"mark":{"type":"text","text":"= 300 K","fontSize":16,"align":"left","baseline":"middle","color":"#000"},"encoding":{"x":{"datum":45.5},"y":{"datum":0.00185,"scale":{"type":"log"}}}},
  {"data":{"values":[{}]},"mark":{"type":"text","text":"= 500 K","fontSize":16,"align":"left","baseline":"middle","color":"#000"},"encoding":{"x":{"datum":45.5},"y":{"datum":0.00136,"scale":{"type":"log"}}}},
  {"data":{"values":[{}]},"mark":{"type":"text","text":"λ","fontStyle":"italic","fontSize":19,"align":"left","baseline":"middle","color":"#000"},"encoding":{"x":{"datum":323.4},"y":{"datum":0.01578,"scale":{"type":"log"}}}},
  {"data":{"values":[{}]},"mark":{"type":"text","text":"ex","fontSize":11,"align":"left","baseline":"middle","dy":7,"color":"#000"},"encoding":{"x":{"datum":332.4},"y":{"datum":0.01578,"scale":{"type":"log"}}}},
  {"data":{"values":[{}]},"mark":{"type":"text","text":"= 320 nm","fontSize":16,"align":"left","baseline":"middle","color":"#000"},"encoding":{"x":{"datum":343.5},"y":{"datum":0.01578,"scale":{"type":"log"}}}},
  {"data":{"values":[{}]},"mark":{"type":"text","text":"λ","fontStyle":"italic","fontSize":19,"align":"left","baseline":"middle","color":"#000"},"encoding":{"x":{"datum":323.4},"y":{"datum":0.01125,"scale":{"type":"log"}}}},
  {"data":{"values":[{}]},"mark":{"type":"text","text":"em","fontSize":11,"align":"left","baseline":"middle","dy":7,"color":"#000"},"encoding":{"x":{"datum":331.4},"y":{"datum":0.01125,"scale":{"type":"log"}}}},
  {"data":{"values":[{}]},"mark":{"type":"text","text":"= 590 nm","fontSize":16,"align":"left","baseline":"middle","color":"#000"},"encoding":{"x":{"datum":343.5},"y":{"datum":0.01125,"scale":{"type":"log"}}}}
 ]},
{"layer":[
  {"data":{"values":[{}]},"mark":{"type":"rect","fill":"white","stroke":"#000","strokeWidth":1.5},"encoding":{"x":{"datum":77,"scale":{"domain":[77,523],"range":[291,580],"nice":false,"zero":false}},"x2":{"datum":523},"y":{"datum":21.8,"scale":{"domain":[21.8,47],"range":[179,0],"nice":false,"zero":false}},"y2":{"datum":47}}},
  {"data":{"name":"ins"},"mark":{"type":"line","color":"#000","strokeWidth":1.5},
   "encoding":{
    "x":{"field":"T","type":"quantitative","scale":{"domain":[77,523],"range":[291,580],"nice":false,"zero":false},"axis":{"orient":"bottom","offset":-269,"title":"Temperature /K","values":[100,200,300,400,500],"tickSize":-4,"tickWidth":1.2,"labelPadding":7,"labelFontSize":14,"titleFontSize":14,"titlePadding":2,"zindex":2,"labelFlush":false}},
    "y":{"field":"tau","type":"quantitative","scale":{"domain":[21.8,47],"range":[179,0],"nice":false,"zero":false},"axis":{"orient":"left","offset":-291,"title":"Fluorescence lifetime /ms","values":[25,30,35,40,45],"tickSize":4,"tickWidth":1.2,"labelPadding":2,"labelFontSize":14,"titleFontSize":14,"titlePadding":4,"zindex":2,"labelFlush":false}}}},
  {"data":{"name":"ins"},"mark":{"type":"point","shape":"square","filled":true,"size":70,"color":"#000","opacity":1},"encoding":{"x":{"field":"T","type":"quantitative"},"y":{"field":"tau","type":"quantitative"}}}
 ]}
],
"resolve":{"scale":{"x":"independent","y":"independent"},"axis":{"x":"independent","y":"independent"}}
}
